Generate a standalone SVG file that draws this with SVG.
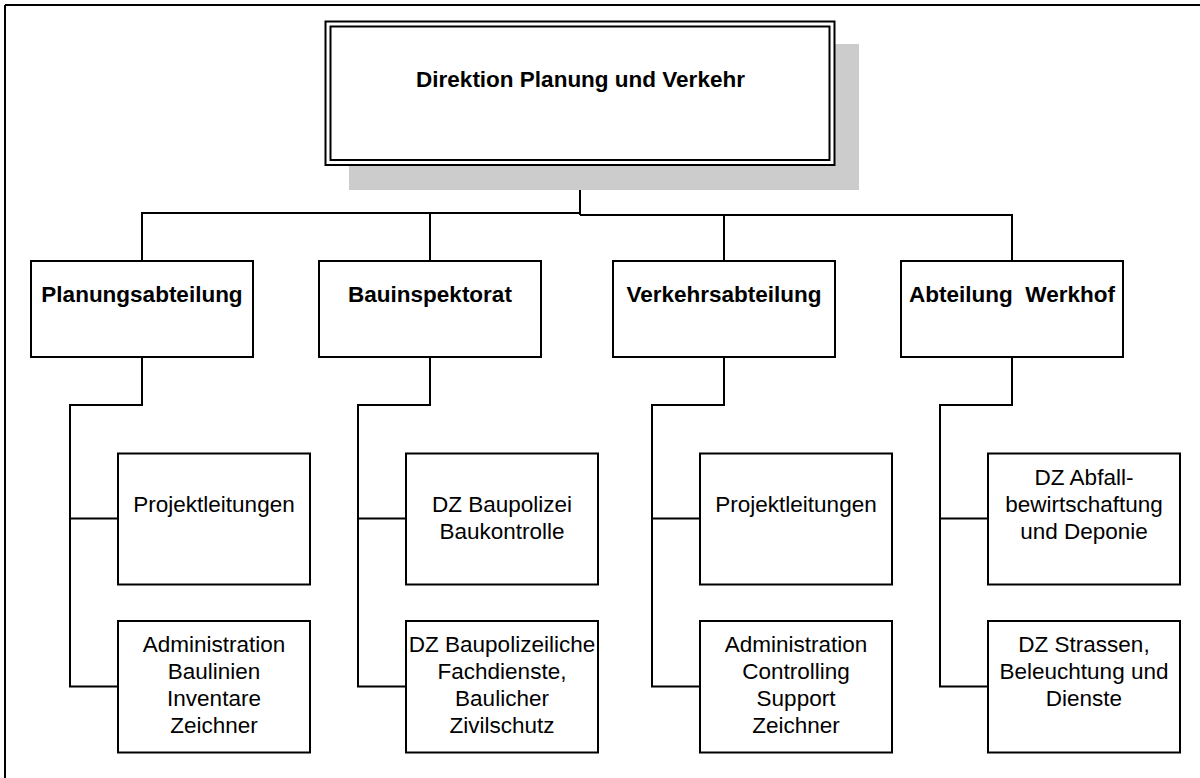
<svg xmlns="http://www.w3.org/2000/svg" width="1200" height="778" viewBox="0 0 1200 778">
<style>
.box{fill:#fff;stroke:#000;stroke-width:2}
.ln{fill:none;stroke:#000;stroke-width:2}
.b{font-family:"Liberation Sans",Arial,sans-serif;font-size:22.5px;font-weight:bold;fill:#000;text-anchor:middle;white-space:pre}
.r{font-family:"Liberation Sans",Arial,sans-serif;font-size:22.5px;fill:#000;text-anchor:middle}
</style>
<rect width="1200" height="778" fill="#fff"/>
<g id="frame" class="ln">
<path d="M5,5 H1200 M5,5 V778"/>
</g>
<g id="connectors" class="ln">
<path d="M580,165 V215"/>
<path d="M142,261 V213 H580"/>
<path d="M430,213 V261"/>
<path d="M580,215 H1012 V261"/>
<path d="M724,215 V261"/>
<path d="M142,357 V405 H70 V686.5 H118 M70,518.5 H118"/>
<path d="M430,357 V405 H358 V686.5 H406 M358,518.5 H406"/>
<path d="M724,357 V405 H652 V686.5 H700 M652,518.5 H700"/>
<path d="M1012,357 V405 H940 V686.5 H988 M940,518.5 H988"/>
</g>
<g id="direktion">
<rect x="349" y="44" width="510" height="146" fill="#ccc"/>
<rect x="325.5" y="21.5" width="509" height="143.5" class="box" stroke-width="1.6"/>
<rect x="330.5" y="26.5" width="499" height="133.5" class="box"/>
<text class="b" x="580.5" y="87.3">Direktion Planung und Verkehr</text>
</g>
<g id="planungsabteilung">
<rect class="box" x="31" y="261" width="222" height="96"/>
<text class="b" x="142" y="301.7">Planungsabteilung</text>
</g>
<g id="bauinspektorat">
<rect class="box" x="319" y="261" width="222" height="96"/>
<text class="b" x="430" y="301.7">Bauinspektorat</text>
</g>
<g id="verkehrsabteilung">
<rect class="box" x="613" y="261" width="222" height="96"/>
<text class="b" x="724" y="301.7">Verkehrsabteilung</text>
</g>
<g id="werkhof">
<rect class="box" x="901" y="261" width="222" height="96"/>
<text class="b" x="1012" y="301.7" xml:space="preserve">Abteilung  Werkhof</text>
</g>
<g id="pa-projektleitungen">
<rect class="box" x="118" y="453.5" width="192" height="131"/>
<text class="r" x="214" y="511.5">Projektleitungen</text>
</g>
<g id="pa-administration">
<rect class="box" x="118" y="621" width="192" height="131.5"/>
<text class="r" x="214" y="652">Administration</text>
<text class="r" x="214" y="679">Baulinien</text>
<text class="r" x="214" y="706">Inventare</text>
<text class="r" x="214" y="733">Zeichner</text>
</g>
<g id="bi-baupolizei">
<rect class="box" x="406" y="453.5" width="192" height="131"/>
<text class="r" x="502" y="511.5">DZ Baupolizei</text>
<text class="r" x="502" y="538.5">Baukontrolle</text>
</g>
<g id="bi-fachdienste">
<rect class="box" x="406" y="621" width="192" height="131.5"/>
<text class="r" x="502" y="652">DZ Baupolizeiliche</text>
<text class="r" x="502" y="679">Fachdienste,</text>
<text class="r" x="502" y="706">Baulicher</text>
<text class="r" x="502" y="733">Zivilschutz</text>
</g>
<g id="va-projektleitungen">
<rect class="box" x="700" y="453.5" width="192" height="131"/>
<text class="r" x="796" y="511.5">Projektleitungen</text>
</g>
<g id="va-administration">
<rect class="box" x="700" y="621" width="192" height="131.5"/>
<text class="r" x="796" y="652">Administration</text>
<text class="r" x="796" y="679">Controlling</text>
<text class="r" x="796" y="706">Support</text>
<text class="r" x="796" y="733">Zeichner</text>
</g>
<g id="wh-abfall">
<rect class="box" x="988" y="453.5" width="192" height="131"/>
<text class="r" x="1084" y="484.5">DZ Abfall-</text>
<text class="r" x="1084" y="511.5">bewirtschaftung</text>
<text class="r" x="1084" y="538.5">und Deponie</text>
</g>
<g id="wh-strassen">
<rect class="box" x="988" y="621" width="192" height="131.5"/>
<text class="r" x="1084" y="652">DZ Strassen,</text>
<text class="r" x="1084" y="679">Beleuchtung und</text>
<text class="r" x="1084" y="706">Dienste</text>
</g>
</svg>
